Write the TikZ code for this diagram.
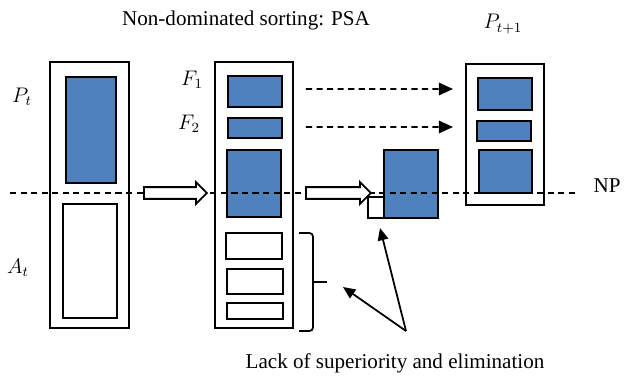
\documentclass[tikz,border=0pt]{standalone}
\usepackage{fontspec}
\setmainfont{Liberation Serif}
\usepackage{tikz}
\usetikzlibrary{arrows.meta,positioning,shapes.arrows,calc}
\usepackage{xcolor}
\definecolor{popblue}{RGB}{79,129,189}
\tikzset{
  outer/.style  = {rectangle, draw, line width=1.1pt, inner sep=0pt, fill=white},
  solset/.style = {rectangle, draw, line width=1.1pt, inner sep=0pt, fill=popblue},
  empset/.style = {rectangle, draw, line width=1.1pt, inner sep=0pt, fill=white},
  blockarr/.style = {single arrow, draw, line width=1pt, fill=white, inner xsep=0pt,
                  inner ysep=0.1cm, single arrow head extend=0.1cm},
  cut/.style    = {line width=1.1pt, dash pattern=on 3.5pt off 2.5pt},
  dflow/.style  = {-{Triangle[length=8pt,width=7pt]}, line width=1.1pt,
                  dash pattern=on 3.5pt off 2.5pt},
  pflow/.style  = {-{Triangle[length=7pt,width=6pt]}, line width=1pt},
}

\begin{document}
\begin{tikzpicture}[x=0.02cm,y=-0.02cm,every node/.style={font=\fontsize{12}{14}\selectfont}]
    \useasboundingbox (0,0) rectangle (625,378);
    % population P_t + archive A_t
    \node[outer, minimum width=1.58cm, minimum height=5.32cm] (pa) at (89.5,195) {};
    \node[solset, minimum width=1.0cm, minimum height=2.12cm] (pt) at (91,130) {};
    \node[empset, minimum width=1.08cm, minimum height=2.28cm] (at) at (90,261) {};
    % sorted fronts
    \node[outer, minimum width=1.56cm, minimum height=5.32cm] (fr) at (254,195) {};
    \node[solset, minimum width=1.08cm, minimum height=0.62cm] (f1) at (255,91.5) {};
    \node[solset, minimum width=1.08cm, minimum height=0.4cm] (f2) at (255,128) {};
    \node[solset, minimum width=1.08cm, minimum height=1.34cm] (f3) at (254,183.5) {};
    \node[empset, minimum width=1.12cm, minimum height=0.52cm] (w1) at (254,246) {};
    \node[empset, minimum width=1.12cm, minimum height=0.5cm] (w2) at (255,281.5) {};
    \node[empset, minimum width=1.12cm, minimum height=0.32cm] (w3) at (255,311) {};
    % last front split by NP
    \node[empset, minimum width=0.32cm, minimum height=0.42cm] (cutoff) at (376,207.5) {};
    \node[solset, minimum width=1.08cm, minimum height=1.36cm] (lastf) at (411,184) {};
    % next population
    \node[outer, minimum width=1.56cm, minimum height=2.82cm] (pn) at (505,134.5) {};
    \node[solset, minimum width=1.08cm, minimum height=0.64cm] (r1) at (505,94) {};
    \node[solset, minimum width=1.08cm, minimum height=0.4cm] (r2) at (504,131) {};
    \node[solset, minimum width=1.06cm, minimum height=0.86cm] (r3) at (505.5,171.5) {};
    % NP line
    \coordinate (npl) at (10,193);
    \coordinate (npr) at (575,193);
    \draw[cut] (npl) -- (npr);
    % block arrows
    \node[blockarr, minimum height=1.26cm] (ba1) at (172.5,193) {};
    \node[blockarr, minimum height=1.3cm] (ba2) at (335.5,193) {};
    % copies into P_{t+1}
    \draw[dflow] ([xshift=0.46cm,yshift=0.05cm]f1.east) -- ([xshift=-0.48cm,yshift=0.1cm]r1.west);
    \draw[dflow] ([xshift=0.46cm,yshift=0.02cm]f2.east) -- ([xshift=-0.46cm,yshift=0.08cm]r2.west);
    % brace on dropped fronts
    \coordinate (bt) at (299,233);
    \coordinate (bm) at (313,282);
    \coordinate (bb) at (299,331);
    \draw[line width=1pt, rounded corners=2pt] (bt) -| (bm) |- (bb);
    \draw[line width=1pt] (bm) -- ++(14,0);
    % labels
    \node (title) at (246,20) {Non-dominated sorting: PSA};
    \node (lpt) at (22,97) {$P_t$};
    \node (lat) at (18,268) {$A_t$};
    \node (lf1) at (192,80) {$F_1$};
    \node (lf2) at (189,124) {$F_2$};
    \node (lpn) at (503,24) {$P_{t+1}$};
    \node (np) at (607,186) {NP};
    \node (lack) at (395,363) {Lack of superiority and elimination};
    % pointers
    \coordinate (lk) at (406,331);
    \draw[pflow] (lk) -- (380,228);
    \draw[pflow] (lk) -- (343,287);
  \end{tikzpicture}
\end{document}
